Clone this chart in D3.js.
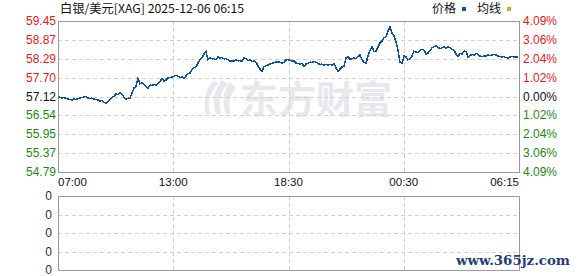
<!DOCTYPE html>
<html>
<head>
<meta charset="utf-8">
<script src="https://cdn.jsdelivr.net/npm/d3@7"></script>
<style>
  body { margin: 0; background: #fff; }
  svg { display: block; }
</style>
</head>
<body>
<script>
// Price series, one reading every ~2px along the session
const prices = [
  57.09, 57.10, 57.07, 57.09, 57.06, 57.04, 57.03, 57.01, 57.04, 57.03,
  57.06, 57.07, 57.09, 57.10, 57.13, 57.07, 57.06, 57.07, 57.04, 57.03,
  57.01, 56.98, 57.00, 56.94, 56.92, 56.97, 57.04, 57.09, 57.13, 57.20,
  57.17, 57.25, 57.18, 57.10, 57.04, 57.07, 57.06, 57.23, 57.38, 57.44,
  57.68, 57.51, 57.54, 57.48, 57.43, 57.37, 57.47, 57.46, 57.49, 57.47,
  57.51, 57.58, 57.68, 57.60, 57.63, 57.69, 57.71, 57.72, 57.74, 57.78,
  57.74, 57.71, 57.72, 57.68, 57.75, 57.83, 57.84, 57.96, 58.01, 58.04,
  58.15, 58.25, 58.31, 58.43, 58.51, 58.25, 58.32, 58.28, 58.29, 58.25,
  58.35, 58.31, 58.32, 58.28, 58.29, 58.25, 58.20, 58.23, 58.20, 58.25,
  58.22, 58.23, 58.20, 58.32, 58.28, 58.23, 58.25, 58.20, 58.22, 58.18,
  58.06, 57.97, 57.89, 58.04, 58.07, 58.09, 58.12, 58.14, 58.17, 58.18,
  58.19, 58.18, 58.14, 58.18, 58.25, 58.26, 58.23, 58.22, 58.22, 58.15,
  58.14, 58.12, 58.14, 58.04, 58.12, 58.15, 58.18, 58.17, 58.20, 58.18,
  58.14, 58.11, 58.12, 58.09, 58.11, 58.09, 58.11, 58.09, 58.14, 58.00,
  57.89, 57.97, 58.03, 58.06, 58.31, 58.36, 58.26, 58.29, 58.31, 58.29,
  58.34, 58.40, 58.25, 58.18, 58.15, 58.37, 58.55, 58.65, 58.51, 58.52,
  58.64, 58.77, 58.83, 58.93, 58.96, 59.14, 59.27, 59.08, 58.99, 58.80,
  58.55, 58.18, 58.14, 58.37, 58.34, 58.25, 58.28, 58.37, 58.52, 58.49,
  58.48, 58.55, 58.58, 58.55, 58.43, 58.46, 58.54, 58.62, 58.66, 58.69,
  58.63, 58.60, 58.62, 58.65, 58.60, 58.65, 58.63, 58.57, 58.55, 58.43,
  58.35, 58.45, 58.42, 58.52, 58.51, 58.34, 58.38, 58.42, 58.40, 58.45,
  58.42, 58.37, 58.35, 58.38, 58.37, 58.40, 58.38, 58.40, 58.42, 58.40,
  58.37, 58.35, 58.34, 58.35, 58.32, 58.31, 58.34, 58.35, 58.34, 58.34,
  58.34
];

const priceTicks = [59.45, 58.87, 58.29, 57.70, 57.12, 56.54, 55.95, 55.37, 54.79];
const pctTicks = ["4.09", "3.06", "2.04", "1.02", "0.00", "1.02", "2.04", "3.06", "4.09"];
const timeLabels = ["07:00", "13:00", "18:30", "00:30", "06:15"];
const volTicks = [0, 0, 0, 0, 0];
const basePrice = 57.12;

const W = 578, H = 276;
const main = { left: 58, right: 519, top: 21, bottom: 172 };
const vol = { top: 196, bottom: 270 };

const svg = d3.select("body").append("svg")
  .attr("width", W).attr("height", H);

const x = d3.scaleLinear().domain([0, prices.length - 1]).range([main.left, main.right - 1]);
const xt = d3.scaleLinear().domain([0, timeLabels.length - 1]).range([main.left, main.right]);
const y = d3.scaleLinear().domain([d3.min(priceTicks), d3.max(priceTicks)]).range([main.bottom, main.top]);
const yv = d3.scaleLinear().domain([0, volTicks.length - 1]).range([vol.top, vol.bottom]);

const numFont = "'Liberation Sans', Arial, sans-serif";
const cjkFont = "'Noto Sans CJK SC', sans-serif";
const colorOf = v => v > basePrice + 0.001 ? "#f01818" : (v < basePrice - 0.001 ? "#1c8a10" : "#111");

// watermark logo
const wm = svg.append("g").attr("fill", "#e8e8ec");
wm.append("path")
  .attr("d", "M214,80 C206,88 202,100 206,114 L210,114 C207,102 210,92 218,84 Z M222,80 C214,90 212,102 216,114 L221,114 C218,102 220,92 228,84 Z M230,82 C222,92 222,104 226,114 L231,114 C228,104 230,94 236,88 Z");
wm.append("text")
  .attr("x", 240).attr("y", 113)
  .attr("font-family", cjkFont).attr("font-weight", "bold")
  .attr("font-size", 38).attr("textLength", 152).attr("lengthAdjust", "spacing")
  .text("东方财富");

// grid main
const grid = svg.append("g")
  .attr("stroke", "#d0d0d0").attr("stroke-dasharray", "4,3").attr("stroke-width", 1);
grid.selectAll(".h").data(priceTicks.slice(1, -1)).join("line")
  .attr("x1", main.left).attr("x2", main.right)
  .attr("y1", d => Math.round(y(d)) + 0.5).attr("y2", d => Math.round(y(d)) + 0.5);
grid.selectAll(".v").data(timeLabels.slice(1, -1)).join("line")
  .attr("x1", (d, i) => Math.round(xt(i + 1)) + 0.5).attr("x2", (d, i) => Math.round(xt(i + 1)) + 0.5)
  .attr("y1", main.top).attr("y2", main.bottom);

// grid volume
const grid2 = svg.append("g")
  .attr("stroke", "#d0d0d0").attr("stroke-dasharray", "4,3").attr("stroke-width", 1);
grid2.selectAll(".h").data(volTicks.slice(1, -1)).join("line")
  .attr("x1", main.left).attr("x2", main.right)
  .attr("y1", (d, i) => Math.round(yv(i + 1)) + 0.5).attr("y2", (d, i) => Math.round(yv(i + 1)) + 0.5);
grid2.selectAll(".v").data(timeLabels.slice(1, -1)).join("line")
  .attr("x1", (d, i) => Math.round(xt(i + 1)) + 0.5).attr("x2", (d, i) => Math.round(xt(i + 1)) + 0.5)
  .attr("y1", vol.top).attr("y2", vol.bottom);

// frames
svg.append("rect")
  .attr("x", main.left + 0.5).attr("y", main.top + 0.5)
  .attr("width", main.right - main.left).attr("height", main.bottom - main.top)
  .attr("fill", "none").attr("stroke", "#9a9a9a");
svg.append("rect")
  .attr("x", main.left + 0.5).attr("y", vol.top + 0.5)
  .attr("width", main.right - main.left).attr("height", vol.bottom - vol.top)
  .attr("fill", "none").attr("stroke", "#9a9a9a");

// price line
const line = d3.line().x((d, i) => x(i)).y(d => y(d));
svg.append("path")
  .datum(prices)
  .attr("fill", "none")
  .attr("stroke", "#0b52a6")
  .attr("stroke-width", 1.5)
  .attr("shape-rendering", "crispEdges")
  .attr("d", line);

// left price labels
svg.append("g").selectAll("text").data(priceTicks).join("text")
  .attr("x", 56).attr("y", d => y(d) + 4)
  .attr("text-anchor", "end")
  .attr("font-family", numFont).attr("font-size", 12)
  .attr("fill", d => colorOf(d))
  .text(d => d.toFixed(2));

// right percent labels
svg.append("g").selectAll("text").data(pctTicks).join("text")
  .attr("x", 523).attr("y", (d, i) => y(priceTicks[i]) + 4)
  .attr("font-family", numFont).attr("font-size", 12)
  .attr("fill", (d, i) => colorOf(priceTicks[i]))
  .text(d => d + "%");

// time labels
svg.append("g").selectAll("text").data(timeLabels).join("text")
  .attr("x", (d, i) => xt(i))
  .attr("y", 186)
  .attr("text-anchor", (d, i) => i === 0 ? "start" : (i === timeLabels.length - 1 ? "end" : "middle"))
  .attr("font-family", numFont).attr("font-size", 11.5)
  .attr("fill", "#111")
  .text(d => d);

// volume labels
svg.append("g").selectAll("text").data(volTicks).join("text")
  .attr("x", 52).attr("y", (d, i) => yv(i) + 4)
  .attr("text-anchor", "end")
  .attr("font-family", numFont).attr("font-size", 12)
  .attr("fill", "#1a2f60")
  .text(d => d);

// title
svg.append("text")
  .attr("x", 60).attr("y", 13)
  .attr("font-family", cjkFont).attr("font-size", 12)
  .attr("textLength", 184).attr("lengthAdjust", "spacingAndGlyphs")
  .attr("fill", "#111")
  .text("白银/美元[XAG] 2025-12-06 06:15");

// legend
const legend = [
  { name: "价格", color: "#0b52a6", x: 432 },
  { name: "均线", color: "#e0a81c", x: 477 }
];
const lg = svg.append("g").selectAll("g").data(legend).join("g");
lg.append("text")
  .attr("x", d => d.x).attr("y", 13)
  .attr("font-family", cjkFont).attr("font-size", 12)
  .attr("fill", "#111")
  .text(d => d.name);
lg.append("rect")
  .attr("x", d => d.x + 30).attr("y", 7)
  .attr("width", 4).attr("height", 4)
  .attr("fill", d => d.color);

// site watermark
svg.append("text")
  .attr("x", 456).attr("y", 265)
  .attr("font-family", "'DejaVu Serif', serif").attr("font-weight", "bold")
  .attr("font-size", 13).attr("textLength", 114).attr("lengthAdjust", "spacingAndGlyphs")
  .attr("fill", "#1c3c7c")
  .text("www.365jz.com");
</script>
</body>
</html>
